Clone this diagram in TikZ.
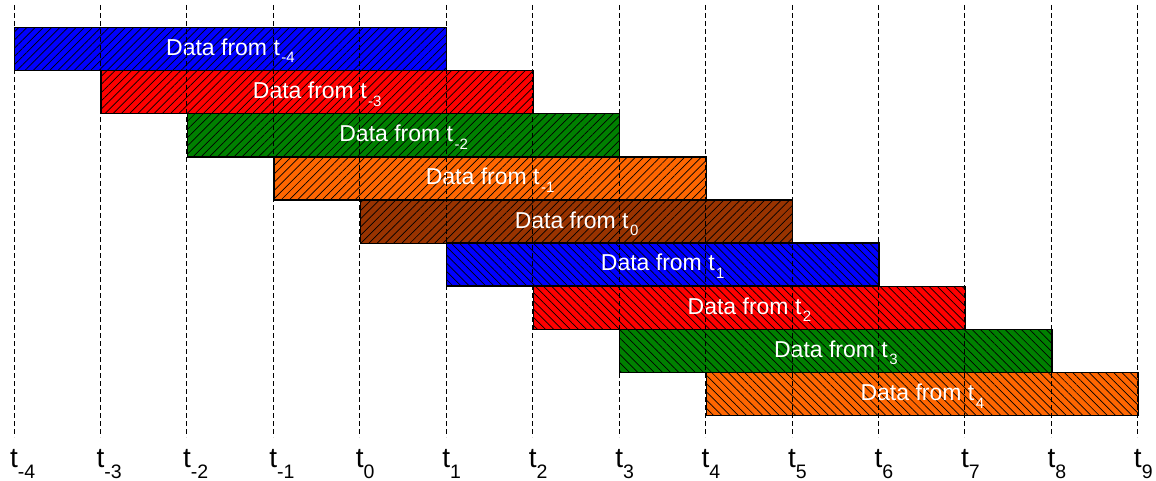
\documentclass[tikz,border=0pt]{standalone}
\usepackage{fontspec}
\setmainfont{Liberation Sans}
\usetikzlibrary{patterns.meta}

\definecolor{cblue}{RGB}{0,0,255}
\definecolor{cred}{RGB}{255,0,0}
\definecolor{cgreen}{RGB}{0,128,0}
\definecolor{corange}{RGB}{255,102,0}
\definecolor{cbrown}{RGB}{153,51,0}

% subscript index for bar captions and axis labels
\newcommand{\barsub}[1]{\hspace{1.5pt}\raisebox{-7.5pt}{\fontsize{15}{15}\selectfont #1}}
\newcommand{\axsub}[1]{\raisebox{-11pt}{\fontsize{19.5}{19.5}\selectfont #1}}

\begin{document}
\begin{tikzpicture}[x=1pt,y=-1pt,
  databar/.style={draw=black, line width=1.3pt, anchor=north west,
    minimum width=432.25pt, minimum height=43.1pt, inner sep=0pt,
    text height=17pt, text depth=4pt,
    text=white, font=\fontsize{23}{23}\selectfont},
  hatchup/.style={pattern={Lines[angle=45,distance=5.8pt,line width=0.7pt]},
    pattern color=black},
  hatchdown/.style={pattern={Lines[angle=-45,distance=5.8pt,line width=0.7pt]},
    pattern color=black},
  gridline/.style={draw=black, line width=1pt, dash pattern=on 5pt off 3pt},
  axislabel/.style={anchor=base, inner sep=0pt, font=\fontsize{28}{28}\selectfont}]
\useasboundingbox (0,0) rectangle (1156,481);

% time grid positions
\foreach \i in {0,...,13} {
  \coordinate (top\i) at ({14+86.45*\i},5);
  \coordinate (bot\i) at ({14+86.45*\i},437);
}

% data bars, each spanning five time steps
\foreach \k/\c/\s/\h in {0/cblue/-4/hatchup, 1/cred/-3/hatchup,
    2/cgreen/-2/hatchup, 3/corange/-1/hatchup, 4/cbrown/0/hatchup,
    5/cblue/1/hatchdown, 6/cred/2/hatchdown, 7/cgreen/3/hatchdown,
    8/corange/4/hatchdown} {
  \node[databar, \h, preaction={fill=\c}] (bar\k) at ({14+86.45*\k},{27+43.1*\k})
    {Data from t\barsub{\s}};
}

% dashed time lines
\foreach \i in {0,...,13} \draw[gridline] (top\i) -- (bot\i);

% time labels
\foreach \i/\s in {0/-4,1/-3,2/-2,3/-1,4/0,5/1,6/2,7/3,8/4,9/5,10/6,11/7,12/8,13/9} {
  \node[axislabel] (lab\i) at ({14+86.45*\i},467) {t\rlap{\axsub{\s}}};
}
\end{tikzpicture}
\end{document}
